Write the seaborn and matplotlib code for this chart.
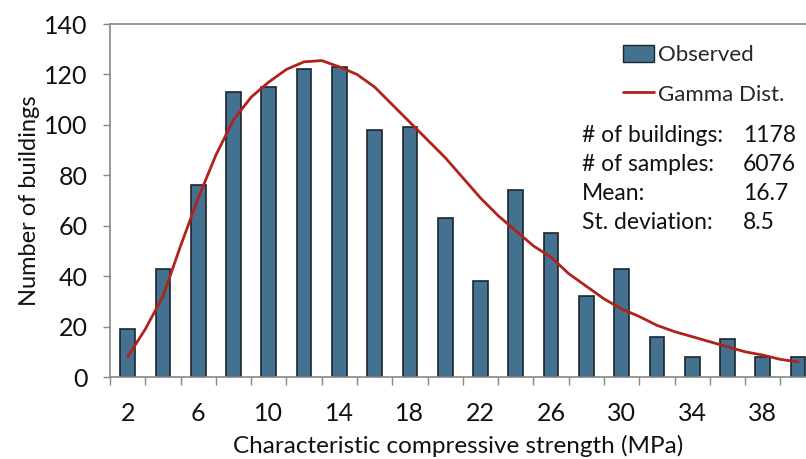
import numpy as np
import pandas as pd
import seaborn as sns
import matplotlib.pyplot as plt
from matplotlib.patches import Patch
from matplotlib.lines import Line2D

# observed histogram (bin centres in MPa, counts)
strength = [2, 4, 6, 8, 10, 12, 14, 16, 18, 20, 22, 24, 26, 28, 30, 32, 34, 36, 38, 40]
buildings = [19, 43, 76, 113, 115, 122, 123, 98, 99, 63, 38, 74, 57, 32, 43, 16, 8, 15, 8, 8]

# fitted gamma curve
curve_x = [2, 3, 4, 5, 6, 7, 8, 9, 10, 11, 12, 13, 14, 15, 16, 17, 18, 19, 20, 21,
           22, 23, 24, 25, 26, 27, 28, 29, 30, 31, 32, 33, 34, 35, 36, 37, 38, 39, 40]
curve_y = [8, 19, 32, 52, 71, 88, 102, 111, 117, 122, 125, 125.5, 123, 120, 115, 108, 101, 94, 87, 79,
           71, 64, 58, 52, 47.5, 41, 36, 31, 27, 24, 20.5, 18, 16, 14, 12, 10, 8.7, 7, 6]

tick_labels = [2, 6, 10, 14, 18, 22, 26, 30, 34, 38]

stats_names = ["# of buildings:", "# of samples:", "Mean:", "St. deviation:"]
stats_values = ["1178", "6076", "16.7", "8.5"]

bar_color = "#44718f"
line_color = "#b0231c"
text_color = "#111111"

sns.set_theme(style="white")
plt.rcParams['font.family'] = ['Lato', 'DejaVu Sans']

fig = plt.figure(figsize=(8.06, 4.59), dpi=100)
ax = fig.add_axes([0.1365, 0.1786, 0.8635, 0.7691])

df = pd.DataFrame({"strength": strength, "buildings": buildings})
sns.barplot(data=df, x="strength", y="buildings", native_scale=True, width=0.42,
            color=bar_color, edgecolor="#1b2630", linewidth=1.2, saturation=1, ax=ax)
sns.lineplot(x=curve_x, y=curve_y, color=line_color, linewidth=2, ax=ax)

ax.set_xlim(1, 40.45)
ax.set_ylim(0, 140)
ax.set_yticks(range(0, 141, 20))
ax.set_xticks(range(1, 41, 2))
ax.set_xticklabels([])
ax.set_xticks(tick_labels, minor=True)
ax.set_xticklabels([str(t) for t in tick_labels], minor=True)
ax.tick_params(axis="x", which="major", direction="out", length=6, width=1, color="#888888", bottom=True)
ax.tick_params(axis="x", which="minor", length=0, pad=18, labelsize=18, labelcolor=text_color)
ax.tick_params(axis="y", direction="out", length=5, width=1, color="#888888", left=True,
               labelsize=18, labelcolor=text_color, pad=11)

for side in ["left", "bottom", "top"]:
    ax.spines[side].set_color("#888888")
    ax.spines[side].set_linewidth(1.2)
ax.spines["right"].set_visible(False)

ax.set_xlabel("Characteristic compressive strength (MPa)", fontsize=17.5, color=text_color, labelpad=7)
ax.set_ylabel("Number of buildings", fontsize=17, color=text_color, labelpad=3)

handles = [Patch(facecolor=bar_color, edgecolor="#1b2630", linewidth=1),
           Line2D([0], [0], color=line_color, linewidth=2)]
fig.legend(handles, ["Observed", "Gamma Dist."], loc="upper left",
           bbox_to_anchor=(0.748, 0.945), frameon=False, fontsize=16,
           handlelength=1.4, handletextpad=0.2, labelspacing=0.85,
           handleheight=0.8)

for i, (name, val) in enumerate(zip(stats_names, stats_values)):
    y = 1 - (135 + i * 29.2) / 459
    fig.text(582 / 806, y, name, fontsize=16.5, va="center", color=text_color)
    fig.text(743 / 806, y, val, fontsize=16.5, va="center", color=text_color)

fig.savefig("out.png", dpi=100)
